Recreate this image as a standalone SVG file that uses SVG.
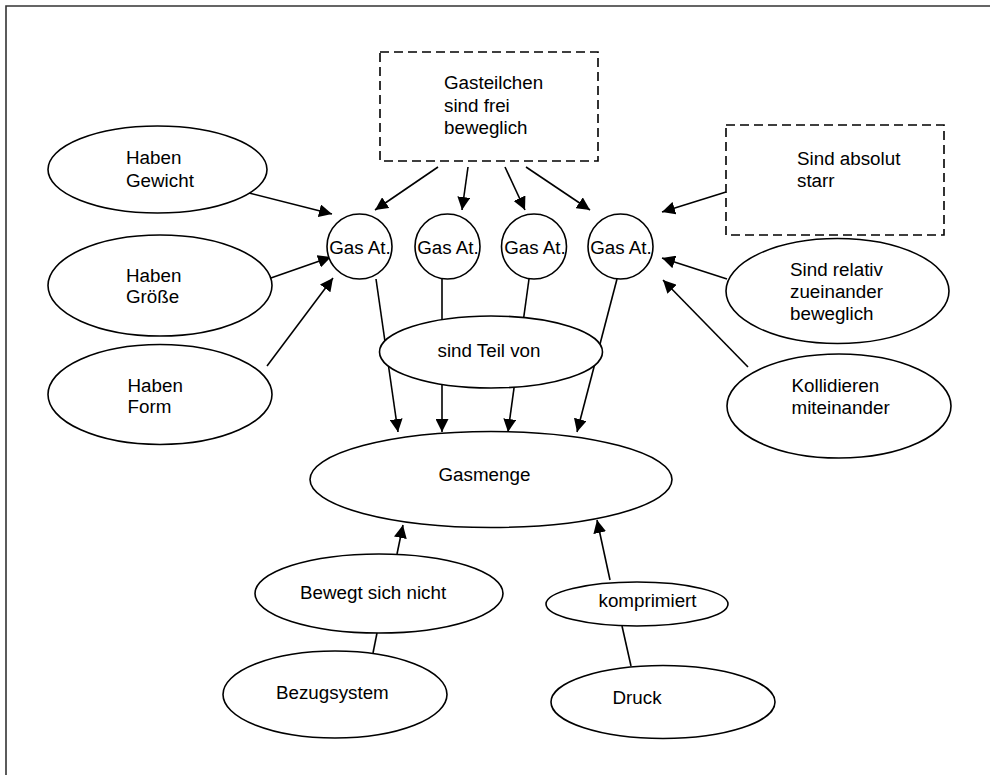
<svg xmlns="http://www.w3.org/2000/svg" width="990" height="775" viewBox="0 0 990 775">
  <style>
    .node { fill: #fff; stroke: #000; stroke-width: 1.6; }
    .dash { fill: #fff; stroke: #000; stroke-width: 1.6; stroke-dasharray: 9 5; }
    .edge { fill: none; stroke: #000; stroke-width: 1.6; }
    .arrow { marker-end: url(#head); }
    text { font-family: "Liberation Sans", Arial, sans-serif; font-size: 18.8px; fill: #000; }
    .c { text-anchor: middle; }
  </style>
  <defs>
    <marker id="head" markerUnits="userSpaceOnUse" markerWidth="14" markerHeight="13" refX="13" refY="6.5" orient="auto">
      <path d="M0,0 L13,6.5 L0,13 z" fill="#000"/>
    </marker>
  </defs>

  <rect width="990" height="775" fill="#fff"/>
  <!-- page frame: top and left edges -->
  <path d="M6,775 V6 H990" fill="none" stroke="#333" stroke-width="1.6"/>

  <g id="connectors">
    <!-- properties into the first atom -->
    <line class="edge arrow" x1="245" y1="192" x2="332" y2="214"/>
    <line class="edge arrow" x1="268" y1="279" x2="331" y2="257"/>
    <line class="edge arrow" x1="267" y1="366" x2="333" y2="278"/>
    <!-- free movement box into atoms -->
    <line class="edge arrow" x1="438" y1="167" x2="375" y2="210"/>
    <line class="edge arrow" x1="468" y1="167" x2="462" y2="210"/>
    <line class="edge arrow" x1="505" y1="167" x2="525" y2="210"/>
    <line class="edge arrow" x1="526" y1="167" x2="590" y2="210"/>
    <!-- right side properties into the fourth atom -->
    <line class="edge arrow" x1="726" y1="192" x2="662" y2="212"/>
    <line class="edge arrow" x1="727" y1="279" x2="662" y2="258"/>
    <line class="edge arrow" x1="748" y1="367" x2="663" y2="280"/>
    <!-- atoms are part of the gas volume -->
    <line class="edge arrow" x1="376" y1="279" x2="398" y2="432"/>
    <line class="edge arrow" x1="442" y1="279" x2="442" y2="432"/>
    <line class="edge arrow" x1="529" y1="279" x2="508" y2="432"/>
    <line class="edge arrow" x1="617" y1="279" x2="577" y2="432"/>
    <!-- lower relations -->
    <line class="edge arrow" x1="397" y1="554" x2="403" y2="525"/>
    <line class="edge" x1="373" y1="653" x2="377" y2="633"/>
    <line class="edge arrow" x1="610" y1="580" x2="597" y2="520"/>
    <line class="edge" x1="631" y1="666" x2="622" y2="626"/>
  </g>

  <g id="haben-gewicht">
    <ellipse class="node" cx="157.5" cy="169.5" rx="109.5" ry="43.5"/>
    <text x="126" y="164">Haben</text>
    <text x="126" y="187">Gewicht</text>
  </g>
  <g id="haben-groesse">
    <ellipse class="node" cx="160" cy="285.5" rx="112" ry="50.5"/>
    <text x="126" y="282">Haben</text>
    <text x="126" y="303">Größe</text>
  </g>
  <g id="haben-form">
    <ellipse class="node" cx="160" cy="394.5" rx="112" ry="50"/>
    <text x="127.5" y="392">Haben</text>
    <text x="127.5" y="413">Form</text>
  </g>

  <g id="gasteilchen">
    <rect class="dash" x="380" y="52" width="218" height="109"/>
    <text x="444" y="89">Gasteilchen</text>
    <text x="444" y="111.5">sind frei</text>
    <text x="444" y="134">beweglich</text>
  </g>
  <g id="absolut-starr">
    <rect class="dash" x="726" y="125" width="218" height="110"/>
    <text x="797" y="165">Sind absolut</text>
    <text x="797" y="187">starr</text>
  </g>

  <g id="atom-1">
    <circle class="node" cx="359.5" cy="246.5" r="32.5"/>
    <text class="c" x="360" y="254">Gas At.</text>
  </g>
  <g id="atom-2">
    <circle class="node" cx="447.5" cy="246.5" r="32.5"/>
    <text class="c" x="448" y="254">Gas At.</text>
  </g>
  <g id="atom-3">
    <circle class="node" cx="534" cy="246.5" r="32.5"/>
    <text class="c" x="535" y="254">Gas At.</text>
  </g>
  <g id="atom-4">
    <circle class="node" cx="620.5" cy="246.5" r="32.5"/>
    <text class="c" x="621" y="254">Gas At.</text>
  </g>

  <g id="relativ-beweglich">
    <ellipse class="node" cx="837.5" cy="291" rx="111.5" ry="52.5"/>
    <text x="790" y="276">Sind relativ</text>
    <text x="790" y="298">zueinander</text>
    <text x="790" y="320">beweglich</text>
  </g>
  <g id="kollidieren">
    <ellipse class="node" cx="839" cy="406" rx="112" ry="52"/>
    <text x="791.5" y="392">Kollidieren</text>
    <text x="791.5" y="413.5">miteinander</text>
  </g>

  <g id="teil-von">
    <ellipse class="node" cx="491" cy="352" rx="111.5" ry="36"/>
    <text x="437.5" y="357">sind Teil von</text>
  </g>
  <g id="gasmenge">
    <ellipse class="node" cx="491" cy="479.5" rx="181" ry="48"/>
    <text x="438.5" y="481">Gasmenge</text>
  </g>

  <g id="bewegt-nicht">
    <ellipse class="node" cx="379" cy="593.5" rx="124" ry="39.5"/>
    <text x="300" y="598.5">Bewegt sich nicht</text>
  </g>
  <g id="bezugsystem">
    <ellipse class="node" cx="335" cy="694.5" rx="112" ry="43.5"/>
    <text x="276" y="698.5">Bezugsystem</text>
  </g>
  <g id="komprimiert">
    <ellipse class="node" cx="637" cy="604" rx="91" ry="22"/>
    <text x="598.5" y="607">komprimiert</text>
  </g>
  <g id="druck">
    <ellipse class="node" cx="663" cy="702" rx="112" ry="36.5"/>
    <text x="612.5" y="704">Druck</text>
  </g>
</svg>
